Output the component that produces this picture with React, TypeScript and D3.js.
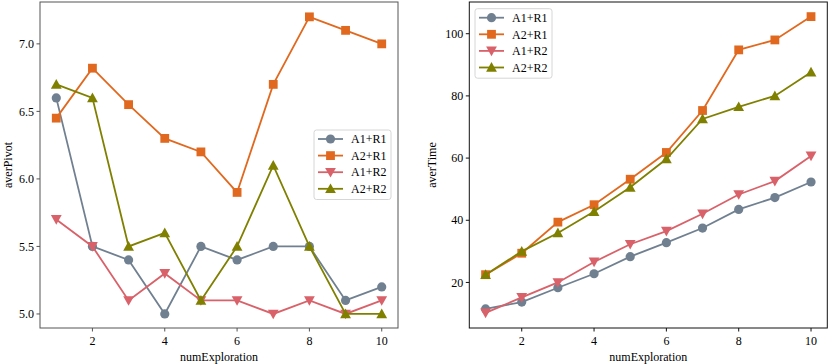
import React from "react";
import * as d3 from "d3";

const WIDTH = 830;
const HEIGHT = 364;
const FONT = "Liberation Serif, Times New Roman, Times, serif";

const numExploration = [1, 2, 3, 4, 5, 6, 7, 8, 9, 10];
const seriesNames = ["A1+R1", "A2+R1", "A1+R2", "A2+R2"];
const seriesColors = ["#708090", "#E1691F", "#D9626A", "#808000"];
const seriesMarkers = ["circle", "square", "triangleDown", "triangleUp"];

// averPivot
const pivotA1R1 = [6.6, 5.5, 5.4, 5.0, 5.5, 5.4, 5.5, 5.5, 5.1, 5.2];
const pivotA2R1 = [6.45, 6.82, 6.55, 6.3, 6.2, 5.9, 6.7, 7.2, 7.1, 7.0];
const pivotA1R2 = [5.7, 5.5, 5.1, 5.3, 5.1, 5.1, 5.0, 5.1, 5.0, 5.1];
const pivotA2R2 = [6.7, 6.6, 5.5, 5.6, 5.1, 5.5, 6.1, 5.5, 5.0, 5.0];

// averTime
const timeA1R1 = [11.5, 13.7, 18.3, 22.8, 28.3, 32.8, 37.5, 43.5, 47.3, 52.3];
const timeA2R1 = [22.5, 29.4, 39.4, 45.0, 53.2, 61.8, 75.3, 94.8, 98.0, 105.5];
const timeA1R2 = [10.2, 15.2, 20.0, 26.6, 32.3, 36.5, 42.1, 48.3, 52.6, 60.7];
const timeA2R2 = [22.5, 30.0, 35.9, 42.8, 50.6, 59.7, 72.6, 76.5, 80.0, 87.6];

const xTicks = [2, 4, 6, 8, 10];
const pivotTicks = [5.0, 5.5, 6.0, 6.5, 7.0];
const timeTicks = [20, 40, 60, 80, 100];

const Marker = ({ kind, x, y, color }: { kind: string; x: number; y: number; color: string }) => {
  if (kind === "circle") return <circle cx={x} cy={y} r={4.6} fill={color} />;
  if (kind === "square") return <rect x={x - 4.4} y={y - 4.4} width={8.8} height={8.8} fill={color} />;
  const s = 5.4;
  const pts =
    kind === "triangleUp"
      ? [[x, y - s], [x - s, y + s * 0.8], [x + s, y + s * 0.8]]
      : [[x, y + s], [x - s, y - s * 0.8], [x + s, y - s * 0.8]];
  return <polygon points={pts.map((p) => p.join(",")).join(" ")} fill={color} />;
};

type PanelProps = {
  left: number;
  right: number;
  yDomain: [number, number];
  yTicks: number[];
  tickFmt: (v: number) => string;
  yLabel: string;
  labelX: number;
  data: number[][];
  legendX: number;
  legendY: number;
  frameColor: string;
};

const Panel = ({ left, right, yDomain, yTicks, tickFmt, yLabel, labelX, data, legendX, legendY, frameColor }: PanelProps) => {
  const top = 2;
  const bottom = 328;
  const x = d3.scaleLinear().domain([0.55, 10.45]).range([left, right]);
  const y = d3.scaleLinear().domain(yDomain).range([bottom, top]);
  const line = d3
    .line<number>()
    .x((_, i) => x(numExploration[i]))
    .y((d) => y(d));

  return (
    <g>
      {data.map((vals, si) => (
        <g key={seriesNames[si]}>
          <path d={line(vals) || ""} fill="none" stroke={seriesColors[si]} strokeWidth={1.8} />
          {vals.map((v, i) => (
            <Marker key={i} kind={seriesMarkers[si]} x={x(numExploration[i])} y={y(v)} color={seriesColors[si]} />
          ))}
        </g>
      ))}
      <rect x={left} y={top} width={right - left} height={bottom - top} fill="none" stroke={frameColor} strokeWidth={1} />
      {xTicks.map((t) => (
        <g key={t} transform={`translate(${x(t)},${bottom})`}>
          <line y1={0} y2={3.5} stroke={frameColor} />
          <text y={17} textAnchor="middle">
            {t}
          </text>
        </g>
      ))}
      {yTicks.map((t) => (
        <g key={t} transform={`translate(${left},${y(t)})`}>
          <line x1={-3.5} x2={0} stroke={frameColor} />
          <text x={-6} dy="0.35em" textAnchor="end">
            {tickFmt(t)}
          </text>
        </g>
      ))}
      <text x={(left + right) / 2} y={361} textAnchor="middle">
        numExploration
      </text>
      <text transform={`translate(${labelX},${(top + bottom) / 2}) rotate(-90)`} textAnchor="middle">
        {yLabel}
      </text>
      <g transform={`translate(${legendX},${legendY})`}>
        <rect x={0} y={0} width={77} height={69.5} rx={2.5} fill="#fff" fillOpacity={0.8} stroke="#d6d6d6" />
        {seriesNames.map((name, i) => (
          <g key={name} transform={`translate(0,${9 + i * 16.6})`}>
            <line x1={4} x2={29} stroke={seriesColors[i]} strokeWidth={1.8} />
            <Marker kind={seriesMarkers[i]} x={16.5} y={0} color={seriesColors[i]} />
            <text x={37} dy="0.35em">
              {name}
            </text>
          </g>
        ))}
      </g>
    </g>
  );
};

const App = () => {
  return (
    <svg
      width={WIDTH}
      height={HEIGHT}
      style={{ position: "absolute", left: 0, top: 0, background: "#fff", fontFamily: FONT, fontSize: 12 }}
    >
      <Panel
        left={40}
        right={398}
        yDomain={[4.896, 7.31]}
        yTicks={pivotTicks}
        tickFmt={d3.format(".1f")}
        yLabel="averPivot"
        labelX={12}
        data={[pivotA1R1, pivotA2R1, pivotA1R2, pivotA2R2]}
        legendX={314}
        legendY={130}
        frameColor="#555"
      />
      <Panel
        left={469.3}
        right={827.3}
        yDomain={[5.35, 110.2]}
        yTicks={timeTicks}
        tickFmt={d3.format("d")}
        yLabel="averTime"
        labelX={436}
        data={[timeA1R1, timeA2R1, timeA1R2, timeA2R2]}
        legendX={475}
        legendY={8.7}
        frameColor="#111"
      />
    </svg>
  );
};

export default App;
